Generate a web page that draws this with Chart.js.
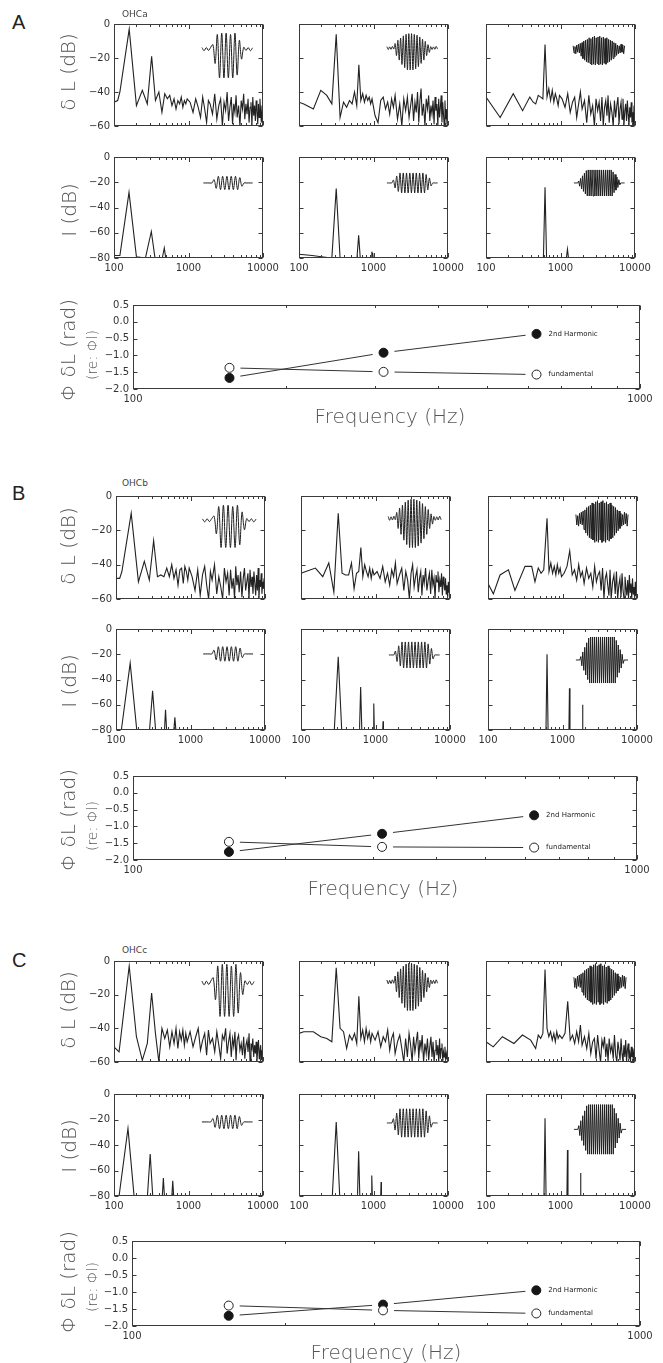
<!DOCTYPE html>
<html>
<head>
<meta charset="utf-8">
<title>OHC spectra and phase</title>
<script src="https://cdn.jsdelivr.net/npm/chart.js@4.4.1/dist/chart.umd.min.js"></script>
<style>
  html, body { margin: 0; padding: 0; background: #fff; }
  #fig { position: relative; width: 663px; height: 1363px; overflow: hidden; }
  #fig canvas { position: absolute; }
  .txt { position: absolute; white-space: pre; line-height: 1; font-family: "DejaVu Sans", sans-serif; color: #333; }
</style>
</head>
<body>
<div id="fig"></div>
<script>
// ---------- data ----------
// shared high-frequency bins (Hz) for the delta-L spectra
const fHi = [1050,1150,1250,1350,1450,1550,1650,1750,1850,1950,2100,2250,2400,2550,2700,2850,3000,3150,3300,3450,3600,3750,3900,4050,4200,4350,4500,4700,4900,5100,5300,5500,5700,5900,6100,6300,6500,6700,6900,7100,7300,7500,7700,7900,8100,8300,8500,8700,8900,9100,9300,9500,9700,9900];

// delta L spectra, low part [Hz, dB]
const aL1lo = [[100,-46],[112,-45],[120,-40],[160,-3],[200,-48],[240,-39],[280,-47],[320,-19],[360,-45],[400,-40],[440,-52],[480,-41],[520,-44],[560,-42],[600,-48],[640,-44],[680,-50],[720,-45],[760,-47],[800,-43],[840,-49],[880,-45],[920,-47],[960,-44]];
const aL2lo = [[100,-46],[116,-47],[156,-50],[196,-39],[236,-42],[276,-47],[316,-6],[356,-55],[396,-46],[436,-49],[476,-45],[516,-47],[556,-40],[596,-48],[636,-24],[676,-45],[716,-41],[756,-46],[796,-42],[836,-45],[876,-43],[916,-47],[956,-44]];
const aL3lo = [[100,-43],[155,-55],[232,-41],[310,-51],[387,-43],[430,-46],[465,-47],[503,-42],[542,-43],[580,-44],[620,-12],[659,-43],[697,-38],[736,-45],[775,-39],[814,-46],[852,-41],[891,-44],[930,-48],[969,-42]];
const bL1lo = [[100,-48],[112,-48],[120,-44],[160,-10],[200,-50],[240,-38],[280,-49],[320,-26],[360,-47],[400,-46],[440,-47],[480,-42],[520,-47],[560,-40],[600,-48],[640,-43],[680,-52],[720,-43],[760,-42],[800,-51],[840,-41],[880,-44],[920,-49],[960,-42]];
const bL2lo = [[100,-45],[116,-44],[156,-42],[196,-47],[236,-39],[276,-56],[316,-10],[356,-45],[396,-46],[436,-46],[476,-39],[516,-54],[556,-45],[596,-44],[636,-30],[676,-47],[716,-40],[756,-44],[796,-47],[836,-42],[876,-48],[916,-43],[956,-46]];
const bL3lo = [[100,-51],[118,-57],[145,-46],[188,-43],[230,-55],[314,-41],[386,-41],[427,-50],[473,-42],[515,-45],[560,-43],[620,-13],[659,-44],[697,-39],[736,-45],[775,-41],[814,-46],[852,-40],[891,-45],[930,-42],[969,-47]];
const cL1lo = [[100,-51],[117,-54],[160,-3],[200,-45],[240,-59],[280,-49],[320,-19],[360,-43],[400,-60],[440,-40],[480,-46],[520,-41],[560,-51],[600,-42],[640,-49],[680,-40],[720,-52],[760,-42],[800,-47],[840,-41],[880,-50],[920,-43],[960,-48]];
const cL2lo = [[100,-43],[116,-42],[156,-42],[196,-45],[236,-46],[276,-48],[316,-4],[356,-40],[396,-42],[436,-52],[476,-44],[516,-47],[556,-43],[596,-49],[636,-21],[676,-46],[716,-41],[756,-48],[796,-40],[836,-46],[876,-42],[916,-48],[956,-43]];
const cL3lo = [[100,-48],[125,-51],[166,-45],[237,-49],[308,-44],[398,-47],[464,-52],[503,-44],[542,-46],[580,-43],[620,-5],[659,-40],[697,-45],[736,-42],[775,-47],[814,-43],[852,-48],[891,-42],[930,-46],[969,-44]];

// delta L spectra, high part (dB at fHi)
const aL1hi = [-46,-52,-44,-49,-55,-43,-50,-58,-45,-47,-53,-41,-56,-48,-44,-60,-46,-51,-40,-57,-49,-43,-59,-47,-52,-42,-55,-48,-60,-45,-50,-41,-56,-47,-53,-44,-58,-49,-46,-60,-43,-54,-48,-57,-45,-51,-59,-47,-55,-44,-52,-58,-48,-56];
const aL2hi = [-54,-58,-45,-43,-50,-46,-53,-44,-49,-42,-56,-47,-60,-44,-51,-43,-55,-48,-41,-57,-46,-52,-40,-58,-45,-38,-54,-47,-60,-44,-50,-42,-57,-48,-53,-45,-59,-43,-51,-47,-60,-44,-55,-49,-42,-58,-46,-53,-60,-45,-56,-50,-59,-52];
const aL3hi = [-44,-49,-41,-52,-46,-43,-55,-47,-40,-50,-45,-58,-42,-53,-48,-60,-44,-51,-46,-57,-43,-60,-49,-45,-54,-42,-58,-47,-52,-60,-45,-55,-48,-43,-59,-50,-46,-56,-44,-60,-51,-47,-57,-45,-53,-60,-49,-55,-46,-58,-52,-60,-48,-56];
const bL1hi = [-47,-55,-43,-58,-46,-41,-52,-60,-44,-49,-40,-57,-47,-53,-60,-42,-50,-45,-58,-43,-54,-48,-60,-41,-52,-46,-56,-44,-59,-48,-42,-55,-50,-45,-60,-43,-53,-47,-57,-44,-51,-58,-46,-55,-42,-60,-49,-53,-45,-57,-50,-54,-48,-58];
const bL2hi = [-44,-48,-41,-50,-45,-52,-43,-47,-39,-51,-46,-42,-55,-44,-49,-60,-45,-40,-53,-47,-43,-56,-48,-44,-58,-46,-51,-42,-55,-49,-45,-57,-43,-52,-48,-60,-46,-50,-44,-56,-49,-53,-45,-58,-47,-51,-55,-48,-57,-52,-59,-50,-56,-53];
const bL3hi = [-45,-41,-32,-46,-43,-49,-40,-47,-44,-51,-42,-48,-45,-53,-41,-50,-46,-44,-55,-42,-60,-48,-45,-52,-58,-43,-60,-50,-46,-57,-44,-60,-52,-48,-59,-45,-55,-60,-47,-53,-58,-49,-60,-46,-56,-51,-60,-48,-57,-53,-60,-50,-58,-55];
const cL1hi = [-42,-51,-45,-40,-53,-47,-43,-56,-41,-49,-46,-54,-42,-50,-58,-44,-47,-40,-55,-48,-43,-57,-46,-51,-42,-59,-47,-44,-53,-49,-56,-45,-58,-50,-47,-54,-43,-60,-49,-52,-46,-57,-50,-55,-48,-60,-52,-47,-58,-54,-50,-59,-53,-56];
const cL2hi = [-47,-42,-51,-45,-48,-41,-53,-46,-43,-55,-48,-44,-52,-60,-46,-57,-43,-50,-60,-45,-54,-48,-42,-58,-47,-52,-44,-60,-49,-55,-46,-59,-51,-45,-57,-48,-60,-53,-47,-56,-50,-60,-46,-58,-52,-49,-60,-54,-57,-51,-59,-55,-58,-53];
const cL3hi = [-46,-43,-24,-47,-44,-49,-42,-48,-38,-50,-45,-52,-43,-55,-48,-46,-58,-44,-53,-60,-47,-51,-45,-57,-49,-60,-46,-54,-50,-58,-44,-56,-60,-48,-53,-59,-46,-55,-60,-50,-57,-47,-60,-53,-49,-58,-55,-60,-51,-57,-54,-60,-52,-56];

// I spectra [Hz, dB]
const aI1 = [[100,-78],[120,-78],[159,-28],[200,-79],[264,-80],[317,-59],[355,-80],[445,-80],[473,-72],[495,-80]];
const aI2 = [[100,-77],[150,-78],[200,-79],[276,-80],[316,-25],[356,-80],[600,-80],[632,-62],[664,-80],[930,-80],[950,-75],[965,-77],[975,-76],[990,-80]];
const aI3 = [[100,-80],[590,-80],[620,-24],[650,-80],[1200,-80],[1240,-73],[1280,-80]];
const bI1 = [[118,-80],[155,-27],[190,-80],[282,-80],[310,-49],[340,-80],[448,-80],[462,-64],[478,-80],[598,-80],[617,-70],[636,-80]];
const bI2 = [[280,-80],[316,-22],[352,-80],[610,-80],[632,-46],[655,-80],[930,-80],[948,-59],[965,-80],[1250,-80],[1264,-73],[1278,-80]];
const bI3 = [[600,-80],[620,-20],[640,-80],[1220,-80],[1240,-47],[1260,-80],[1840,-80],[1860,-60],[1880,-80]];
const cI1 = [[117,-80],[154,-27],[186,-80],[281,-80],[306,-47],[331,-80],[445,-80],[460,-66],[475,-80],[598,-80],[615,-68],[632,-80]];
const cI2 = [[280,-80],[316,-22],[352,-80],[610,-80],[632,-45],[655,-80],[930,-80],[948,-64],[965,-80],[1250,-80],[1264,-69],[1278,-80]];
const cI3 = [[600,-80],[620,-19],[640,-80],[1220,-80],[1240,-44],[1260,-80],[1840,-80],[1860,-62],[1880,-80]];

// inset waveforms (relative amplitude, in sample order)
const waveL1 = [0.05,-0.06,0.05,-0.05,0.06, 0.15,-0.5, 0.5,-1.0, 0.55,-1.0, 0.55,-1.0, 0.5,-1.0, 0.55,-0.9, 0.3,-0.35, 0.06,-0.05,0.05,-0.06,0.04];
const waveL2 = [0.06,-0.07,0.05,-0.06,0.07,-0.05, 0.2,-0.35, 0.35,-0.55, 0.45,-0.75, 0.55,-0.9, 0.62,-1.0, 0.65,-1.0, 0.65,-1.0, 0.62,-0.95, 0.58,-0.85, 0.5,-0.7, 0.4,-0.55, 0.3,-0.35, 0.15,-0.2, 0.06,-0.07,0.05,-0.06,0.07,-0.05];
const waveL3 = [0.2,-0.25,0.15,-0.3,0.25,-0.2,0.3,-0.25, 0.35,-0.45, 0.4,-0.6, 0.5,-0.7, 0.55,-0.8, 0.6,-0.85, 0.7,-0.9, 0.65,-1.0, 0.75,-0.95, 0.8,-1.0, 0.7,-0.9, 0.75,-1.0, 0.8,-0.95, 0.7,-1.0, 0.75,-0.9, 0.65,-0.95, 0.7,-0.85, 0.6,-0.8, 0.55,-0.7, 0.5,-0.6, 0.4,-0.5, 0.35,-0.4, 0.25,-0.3,0.2,-0.25,0.3,-0.2,0.25,-0.3,0.2];
const waveI1 = [0,0,0,0,0, 0.5,-0.8, 1,-1, 1,-1, 1,-1, 1,-1, 1,-1, 0.8,-0.5, 0,0,0,0,0];
const waveI2 = [0,0,0,0, 0.3,-0.5, 0.7,-0.85, 1,-1, 1,-1, 1,-1, 1,-1, 1,-1, 1,-1, 1,-1, 1,-1, 0.85,-0.7, 0.5,-0.3, 0,0,0,0];
const waveI3 = [0,0,0,0,0, 0.15,-0.25, 0.35,-0.45, 0.55,-0.65, 0.75,-0.85, 0.95,-1, 1,-1, 1,-1, 1,-1, 1,-1, 1,-1, 1,-1, 1,-1, 1,-1, 1,-1, 1,-1, 1,-1, 1,-1, 1,-1, 0.85,-0.75, 0.65,-0.55, 0.45,-0.35, 0.25,-0.15, 0,0,0,0,0];

// phase of delta L (rad, re: phase of I)
const phaseFreq = [155, 312, 625];
const phaseSeries = ['fundamental', '2nd Harmonic'];
const fundA = [-1.37, -1.49, -1.57], harmA = [-1.67, -0.92, -0.36];
const fundB = [-1.46, -1.61, -1.63], harmB = [-1.76, -1.22, -0.67];
const fundC = [-1.40, -1.54, -1.63], harmC = [-1.70, -1.37, -0.95];

// ticks
const specMajor = [100, 1000, 10000];
const specMinor = [200,300,400,500,600,700,800,900,2000,3000,4000,5000,6000,7000,8000,9000];
const yTicksL = [0, -20, -40, -60];
const yTicksI = [0, -20, -40, -60, -80];
const phaseMajor = [100, 1000];
const phaseMinor = [200,300,400,500,600,700,800,900];
const yTicksP = [0.5, 0, -0.5, -1, -1.5, -2];

// ---------- layout ----------
const fig = document.getElementById('fig');
const colLeft = [114, 299, 486];
const boxW = 149;
const panels = [
  { letter: 'A', tag: 'OHCa', dx: 0, r1: [24, 102], r2: [157, 101], ph: [133, 300, 507, 89],
    L: [[aL1lo, aL1hi], [aL2lo, aL2hi], [aL3lo, aL3hi]], I: [aI1, aI2, aI3], fund: fundA, harm: harmA,
    insL: [[.59,.93,.245,.284],[.59,.93,.235,.216],[.585,.93,.245,.157]],
    insI: [[.6,.93,.257,.066],[.59,.93,.257,.099],[.59,.93,.257,.129]],
    text: { letterTop: 12.4, tagTop: 10, dL: 72, I: 210, phi: 350, re: 355, freq: [390, 416] } },
  { letter: 'B', tag: 'OHCb', dx: 2, r1: [496, 103], r2: [629, 101], ph: [133, 771, 504, 89],
    L: [[bL1lo, bL1hi], [bL2lo, bL2hi], [bL3lo, bL3hi]], I: [bI1, bI2, bI3], fund: fundB, harm: harmB,
    insL: [[.58,.94,.235,.265],[.585,.94,.216,.284],[.59,.94,.225,.225]],
    insI: [[.585,.92,.247,.072],[.59,.93,.257,.129],[.59,.94,.307,.228]],
    text: { letterTop: 483.4, tagTop: 479, dL: 546, I: 681, phi: 820, re: 826, freq: [383, 888] } },
  { letter: 'C', tag: 'OHCc', dx: 0, r1: [961, 101], r2: [1094, 102], ph: [132, 1236, 508, 90],
    L: [[cL1lo, cL1hi], [cL2lo, cL2hi], [cL3lo, cL3hi]], I: [cI1, cI2, cI3], fund: fundC, harm: harmC,
    insL: [[.59,.94,.216,.333],[.59,.93,.206,.284],[.59,.94,.206,.225]],
    insI: [[.59,.93,.274,.066],[.59,.93,.284,.139],[.59,.94,.347,.243]],
    text: { letterTop: 950.4, tagTop: 946, dL: 1010, I: 1146, phi: 1282, re: 1287, freq: [386, 1352] } },
];
const wavesL = [waveL1, waveL2, waveL3];
const wavesI = [waveI1, waveI2, waveI3];
const waveTension = [0.35, 0.25, 0];

// ---------- frame, ticks and tick labels ----------
const minus = s => s.replace('-', '\u2212');
const framePlugin = {
  id: 'frame',
  afterDraw(chart) {
    const o = chart.canvas.frameOpts;
    const { ctx, chartArea: a } = chart;
    const xs = chart.scales.x, ys = chart.scales.y;
    const L = Math.round(a.left) + 0.5, R = Math.round(a.right) - 0.5;
    const T = Math.round(a.top) + 0.5, B = Math.round(a.bottom) - 0.5;
    ctx.save();
    ctx.strokeStyle = '#3a3a3a';
    ctx.lineWidth = 1;
    ctx.strokeRect(L, T, R - L, B - T);
    ctx.beginPath();
    const xt = (v, len) => {
      const px = Math.round(xs.getPixelForValue(v)) + 0.5;
      ctx.moveTo(px, B); ctx.lineTo(px, B - len);
      ctx.moveTo(px, T); ctx.lineTo(px, T + len);
    };
    o.xMajor.forEach(v => xt(v, 4.5));
    o.xMinor.forEach(v => xt(v, 2.5));
    o.yTicks.forEach(v => {
      const py = Math.round(ys.getPixelForValue(v)) + 0.5;
      ctx.moveTo(L, py); ctx.lineTo(L + 4, py);
      ctx.moveTo(R, py); ctx.lineTo(R - 4, py);
    });
    ctx.stroke();
    ctx.fillStyle = '#333';
    ctx.font = '10px "DejaVu Sans", sans-serif';
    if (o.yLabels) {
      ctx.textAlign = 'right';
      ctx.textBaseline = 'middle';
      o.yTicks.forEach(v => {
        const s = o.yDecimals ? v.toFixed(o.yDecimals) : String(v);
        ctx.fillText(minus(s), a.left - 4, ys.getPixelForValue(v));
      });
    }
    if (o.xLabels) {
      ctx.textAlign = 'center';
      ctx.textBaseline = 'top';
      o.xMajor.forEach(v => ctx.fillText(String(v), xs.getPixelForValue(v), a.bottom + 5));
    }
    if (o.notes) {
      ctx.font = '7px "DejaVu Sans", sans-serif';
      ctx.fillStyle = '#222';
      ctx.textAlign = 'left';
      ctx.textBaseline = 'middle';
      o.notes.forEach(n => ctx.fillText(n.text, xs.getPixelForValue(n.x) + 12, ys.getPixelForValue(n.y)));
    }
    ctx.restore();
  }
};

function makeCanvas(L, T, W, H, pad) {
  const cv = document.createElement('canvas');
  cv.width = W + pad.left + pad.right;
  cv.height = H + pad.top + pad.bottom;
  cv.style.left = (L - pad.left) + 'px';
  cv.style.top = (T - pad.top) + 'px';
  fig.appendChild(cv);
  return cv;
}

function spectrum(L, T, H, yMin, yTicks, series, wave, ins, tension, yLabels, xLabels) {
  const pad = { left: 40, right: 22, top: 6, bottom: 18 };
  const cv = makeCanvas(L, T, boxW, H, pad);
  cv.frameOpts = { xMajor: specMajor, xMinor: specMinor, yTicks, yLabels, xLabels };
  const [x0, x1, fy, h] = ins;
  const n = wave.length - 1;
  const xiMin = -x0 * n / (x1 - x0), xiMax = xiMin + n / (x1 - x0);
  const yiMax = fy / h, yiMin = yiMax - 1 / h;
  new Chart(cv, {
    type: 'line',
    data: { datasets: [
      { data: series, borderColor: '#222', borderWidth: 1.1, pointRadius: 0, tension: 0 },
      { data: wave.map((v, i) => ({ x: i, y: v })), xAxisID: 'xi', yAxisID: 'yi',
        borderColor: '#1e1e1e', borderWidth: 1, pointRadius: 0, tension }
    ] },
    options: {
      responsive: false, animation: false, events: [], devicePixelRatio: 1,
      layout: { padding: pad },
      plugins: { legend: { display: false }, tooltip: { enabled: false } },
      scales: {
        x: { type: 'logarithmic', min: 100, max: 10000, display: false },
        y: { type: 'linear', min: yMin, max: 0, display: false },
        xi: { axis: 'x', type: 'linear', min: xiMin, max: xiMax, display: false },
        yi: { axis: 'y', type: 'linear', min: yiMin, max: yiMax, display: false }
      }
    },
    plugins: [framePlugin]
  });
}

function phaseChart(box, fund, harm) {
  const [L, T, W, H] = box;
  const pad = { left: 45, right: 25, top: 6, bottom: 18 };
  const cv = makeCanvas(L, T, W, H, pad);
  const pts = arr => phaseFreq.map((f, i) => ({ x: f, y: arr[i] }));
  cv.frameOpts = {
    xMajor: phaseMajor, xMinor: phaseMinor, yTicks: yTicksP, yLabels: true, xLabels: true, yDecimals: 1,
    notes: [
      { text: phaseSeries[1], x: phaseFreq[2], y: harm[2] },
      { text: phaseSeries[0], x: phaseFreq[2], y: fund[2] }
    ]
  };
  new Chart(cv, {
    type: 'line',
    data: { datasets: [
      { data: pts(fund), borderColor: '#333', borderWidth: 1, pointRadius: 0, order: 3 },
      { data: pts(harm), borderColor: '#333', borderWidth: 1, pointRadius: 0, order: 3 },
      { data: pts(fund).concat(pts(harm)), showLine: false, pointRadius: 11,
        pointBackgroundColor: '#fff', pointBorderColor: '#fff', pointBorderWidth: 0, order: 2 },
      { data: pts(fund), showLine: false, pointRadius: 4.5, pointBackgroundColor: '#fff',
        pointBorderColor: '#222', pointBorderWidth: 1, order: 1 },
      { data: pts(harm), showLine: false, pointRadius: 4.5, pointBackgroundColor: '#161616',
        pointBorderColor: '#161616', pointBorderWidth: 1, order: 1 }
    ] },
    options: {
      responsive: false, animation: false, events: [], devicePixelRatio: 1,
      layout: { padding: pad },
      plugins: { legend: { display: false }, tooltip: { enabled: false } },
      scales: {
        x: { type: 'logarithmic', min: 100, max: 1000, display: false },
        y: { type: 'linear', min: -2, max: 0.5, display: false }
      }
    },
    plugins: [framePlugin]
  });
}

function addText(s, x, y, size, o = {}) {
  const d = document.createElement('div');
  d.className = 'txt';
  d.textContent = s;
  d.style.left = x + 'px';
  d.style.top = y + 'px';
  d.style.fontSize = size + 'px';
  if (o.family) d.style.fontFamily = o.family;
  if (o.weight) d.style.fontWeight = o.weight;
  if (o.color) d.style.color = o.color;
  if (o.center) d.style.transform = 'translate(-50%,-50%)' + (o.rot ? ' rotate(-90deg)' : '');
  fig.appendChild(d);
}

// ---------- build ----------
panels.forEach(p => {
  for (let c = 0; c < 3; c++) {
    const L = colLeft[c] + p.dx;
    const [lo, hi] = p.L[c];
    const sL = lo.map(([x, y]) => ({ x, y })).concat(fHi.map((x, i) => ({ x, y: hi[i] })));
    spectrum(L, p.r1[0], p.r1[1], -60, yTicksL, sL, wavesL[c], p.insL[c], waveTension[c], c === 0, false);
    const sI = p.I[c].map(([x, y]) => ({ x, y }));
    spectrum(L, p.r2[0], p.r2[1], -80, yTicksI, sI, wavesI[c], p.insI[c], waveTension[c], c === 0, true);
  }
  phaseChart(p.ph, p.fund, p.harm);

  const t = p.text;
  const light = { weight: 200, color: '#555', center: true };
  addText(p.letter, 12, t.letterTop, 20, { family: '"Liberation Sans", sans-serif', color: '#222' });
  addText(p.tag, 122, t.tagTop, 9, { color: '#444' });
  addText('\u03b4 L (dB)', 68, t.dL, 20, { ...light, rot: true });
  addText('I (dB)', 69, t.I, 20, { ...light, rot: true });
  addText('\u03a6 \u03b4L (rad)', 68, t.phi, 20, { ...light, rot: true });
  addText('(re: \u03a6l)', 92, t.re, 14, { ...light, rot: true });
  addText('Frequency (Hz)', t.freq[0], t.freq[1], 20, light);
});
</script>
</body>
</html>
